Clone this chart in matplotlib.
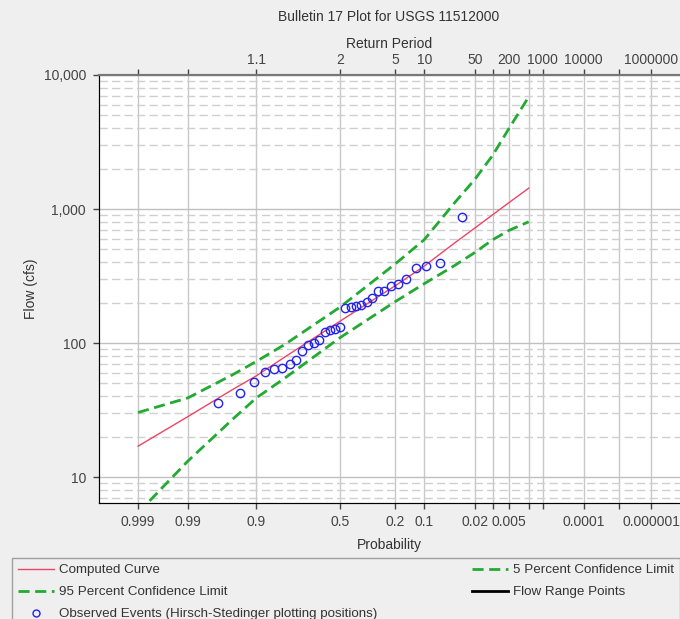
import matplotlib
matplotlib.use('Agg')
import matplotlib.pyplot as plt
from matplotlib.lines import Line2D
from matplotlib.ticker import FixedLocator, NullLocator, NullFormatter, LogLocator
import numpy as np
from statistics import NormalDist

plt.rcParams.update({
    'font.family': ['Liberation Sans', 'DejaVu Sans'],
    'font.size': 10,
    'text.color': '#333333',
    'axes.labelcolor': '#333333',
    'xtick.color': '#444444',
    'ytick.color': '#444444',
})

BG = '#efefef'
RED = '#ee4466'
GREEN = '#22aa33'
BLUE = '#2222ee'

# ── Frequency curve + confidence limits (exceedance probability, cfs) ──
curve_prob = [0.999, 0.99, 0.95, 0.9, 0.8, 0.5, 0.2, 0.1, 0.04, 0.02, 0.01, 0.005, 0.002]
computed_flow = [17, 28.3, 45, 57, 79, 146, 268, 375, 560, 720, 905, 1115, 1430]
upper_flow = [30.3, 39, 58, 73, 98, 186, 390, 590, 1120, 1660, 2510, 3980, 6870]
lower_flow = [5.4, 13.2, 27, 39, 55, 110, 204, 277, 380, 473, 589, 692, 803]

# ── Observed events (Hirsch-Stedinger plotting positions) ──
obs_prob = [0.969, 0.938, 0.906, 0.875, 0.844, 0.813, 0.781, 0.750, 0.719, 0.688,
            0.656, 0.625, 0.594, 0.563, 0.531, 0.500, 0.469, 0.438, 0.406, 0.375,
            0.344, 0.313, 0.281, 0.250, 0.219, 0.188, 0.156, 0.125, 0.094, 0.063,
            0.031]
obs_flow = [35.6, 42.7, 50.9, 60.7, 63.8, 64.7, 69.7, 74.9, 87.0, 96.9,
            99.7, 105, 121.7, 125.3, 126.9, 131.3, 183.8, 186, 189, 193.4,
            201, 216, 243.5, 244.7, 265.3, 275.1, 299.2, 362, 376, 397.9,
            879]

# ── Axis ticks ──
tick_probs = [0.999, 0.99, 0.9, 0.5, 0.2, 0.1, 0.02, 0.01, 0.005, 0.002,
              0.001, 0.0001, 0.00001, 0.000001]
bottom_labels = ['0.999', '0.99', '0.9', '0.5', '0.2', '0.1', '0.02', '', '0.005',
                 '', '', '0.0001', '', '0.000001']
top_labels = ['', '', '1.1', '2', '5', '10', '50', '', '200', '', '1000',
              '10000', '', '1000000']
flow_ticks = [10, 100, 1000, 10000]
flow_labels = ['10', '100', '1,000', '10,000']

_nd = NormalDist()


def _z(q):
    if not np.isfinite(q):
        return np.nan
    q = min(max(q, 1e-12), 1 - 1e-12)
    return -_nd.inv_cdf(q)


def _p(v):
    if not np.isfinite(v):
        return np.nan
    return _nd.cdf(-v)


def prob_to_z(p):
    return np.vectorize(_z, otypes=[float])(np.asarray(p, dtype=float))


def z_to_prob(z):
    return np.vectorize(_p, otypes=[float])(np.asarray(z, dtype=float))


fig = plt.figure(figsize=(6.8, 6.19), dpi=100)
fig.patch.set_facecolor(BG)
ax = fig.add_axes([98.5 / 680, 1 - 503 / 619, 1 - 98.5 / 680, (503 - 75) / 619])
ax.set_facecolor('white')

ax.set_xscale('function', functions=(prob_to_z, z_to_prob))
ax.set_yscale('log')
# forward transform is decreasing in p, so give limits in increasing p order
ax.set_xlim(1.05e-7, 0.99989)
ax.set_ylim(6.4, 10000)

# grid
ax.xaxis.set_major_locator(FixedLocator(tick_probs))
ax.xaxis.set_minor_locator(NullLocator())
ax.set_xticklabels(bottom_labels)
ax.yaxis.set_major_locator(FixedLocator(flow_ticks))
ax.set_yticklabels(flow_labels)
ax.yaxis.set_minor_locator(LogLocator(base=10, subs=range(2, 10)))
ax.yaxis.set_minor_formatter(NullFormatter())
ax.grid(axis='x', which='major', color='#c8c8c8', lw=1, ls='-')
ax.grid(axis='y', which='major', color='#c0c0c0', lw=1, ls='-')
ax.grid(axis='y', which='minor', color='#cfcfcf', lw=1, ls=(0, (6, 3)))
ax.set_axisbelow(True)
ax.tick_params(axis='both', which='major', direction='out', length=4, width=1, pad=5)
ax.tick_params(axis='y', which='minor', length=0)

for side in ['left', 'bottom']:
    ax.spines[side].set_color('#333333')
ax.spines['top'].set_color('#777777')
ax.spines['top'].set_linewidth(1.5)
ax.spines['right'].set_visible(False)

# curves
ax.plot(curve_prob, computed_flow, color=RED, lw=1, zorder=3)
ax.plot(curve_prob, upper_flow, color=GREEN, lw=2, ls=(0, (4, 2)), zorder=3)
ax.plot(curve_prob, lower_flow, color=GREEN, lw=2, ls=(0, (4, 2)), zorder=3)
ax.plot(obs_prob, obs_flow, ls='none', marker='o', ms=6, mfc='none',
        mec=BLUE, mew=1, zorder=4)

ax.set_xlabel('Probability', labelpad=6)
ax.set_ylabel('Flow (cfs)', labelpad=4)

# top axis: return period
ax2 = ax.twiny()
ax2.set_xscale('function', functions=(prob_to_z, z_to_prob))
ax2.set_xlim(ax.get_xlim())
ax2.xaxis.set_major_locator(FixedLocator(tick_probs))
ax2.xaxis.set_minor_locator(NullLocator())
ax2.set_xticklabels(top_labels)
ax2.tick_params(axis='x', direction='out', length=4, width=1, pad=1.5)
ax2.spines['top'].set_color('#777777')
ax2.spines['top'].set_linewidth(1.5)
ax2.spines['right'].set_visible(False)
ax2.set_xlabel('Return Period', labelpad=3.5)

fig.text(389 / 680, 1 - 17 / 619, 'Bulletin 17 Plot for USGS 11512000',
         ha='center', va='center', fontsize=10)

# legend
handles = [
    Line2D([], [], color=RED, lw=1),
    Line2D([], [], color=GREEN, lw=2, ls=(0, (4, 2))),
    Line2D([], [], ls='none', marker='o', ms=5, mfc='none', mec=BLUE, mew=1),
    Line2D([], [], color=GREEN, lw=2, ls=(0, (4, 2))),
    Line2D([], [], color='black', lw=2),
]
labels = ['Computed Curve', '95 Percent Confidence Limit',
          'Observed Events (Hirsch-Stedinger plotting positions)',
          '5 Percent Confidence Limit', 'Flow Range Points']
leg = fig.legend(handles, labels, loc='upper left', ncol=2, mode='expand',
                 bbox_to_anchor=(12 / 680, 0, 668 / 680, 61 / 619),
                 frameon=True, fancybox=False, framealpha=1,
                 edgecolor='#a0a0a0', facecolor=BG, borderaxespad=0,
                 borderpad=0.45, handlelength=2.7, handletextpad=0.4,
                 labelspacing=0.72, fontsize=9.6)
leg.get_frame().set_linewidth(1)

fig.savefig('out.png', dpi=100, facecolor=BG)
